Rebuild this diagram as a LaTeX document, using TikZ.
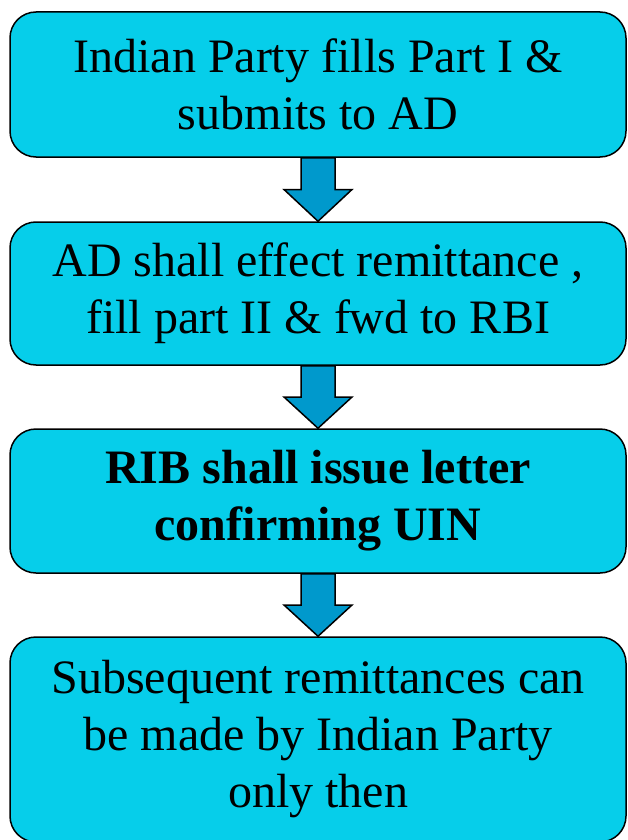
\documentclass[tikz,border=0pt]{standalone}
\usepackage{fontspec}
\setmainfont{Liberation Serif}
\usepackage{xcolor}
\usetikzlibrary{calc}
\definecolor{boxcyan}{RGB}{6,206,234}
\definecolor{arrowblue}{RGB}{0,153,204}

\tikzset{
  stepbox/.style={draw=black, fill=boxcyan, line width=1.5pt, rounded corners=26pt,
                  minimum width=616pt, align=center, inner sep=0pt,
                  font=\fontsize{48}{57}\selectfont},
  blockarrow/.style={draw=black, fill=arrowblue, line width=1.5pt, line join=miter}
}

% block arrow from the bottom of one box to the top of the next
\newcommand{\downblock}[2]{%
  \coordinate (mid) at ($(#1.south)!0.5!(#2.north)$);
  \draw[blockarrow] ([xshift=-17pt]#1.south) -- ([xshift=-17pt]mid)
    -- ([xshift=-34pt]mid) -- (#2.north) -- ([xshift=34pt]mid)
    -- ([xshift=17pt]mid) -- ([xshift=17pt]#1.south) -- cycle;}

\begin{document}
\begin{tikzpicture}[x=1pt, y=-1pt]
        \useasboundingbox (0,0) rectangle (627,840);
        \node[stepbox, minimum height=145pt] (fill) at (318,84.5)
          {Indian Party fills Part I \&\\submits to AD};
        \node[stepbox, minimum height=143pt] (remit) at (318,293.5)
          {AD shall effect remittance ,\\fill part II \& fwd to RBI};
        \node[stepbox, minimum height=144pt, font=\fontsize{48}{57}\selectfont\bfseries] (uin) at (318,501)
          {RIB shall issue letter\\confirming UIN};
        \node[stepbox, minimum height=205pt] (later) at (318,739.5)
          {Subsequent remittances can\\be made by Indian Party\\only then};
        \downblock{fill}{remit}
        \downblock{remit}{uin}
        \downblock{uin}{later}
      \end{tikzpicture}
\end{document}
